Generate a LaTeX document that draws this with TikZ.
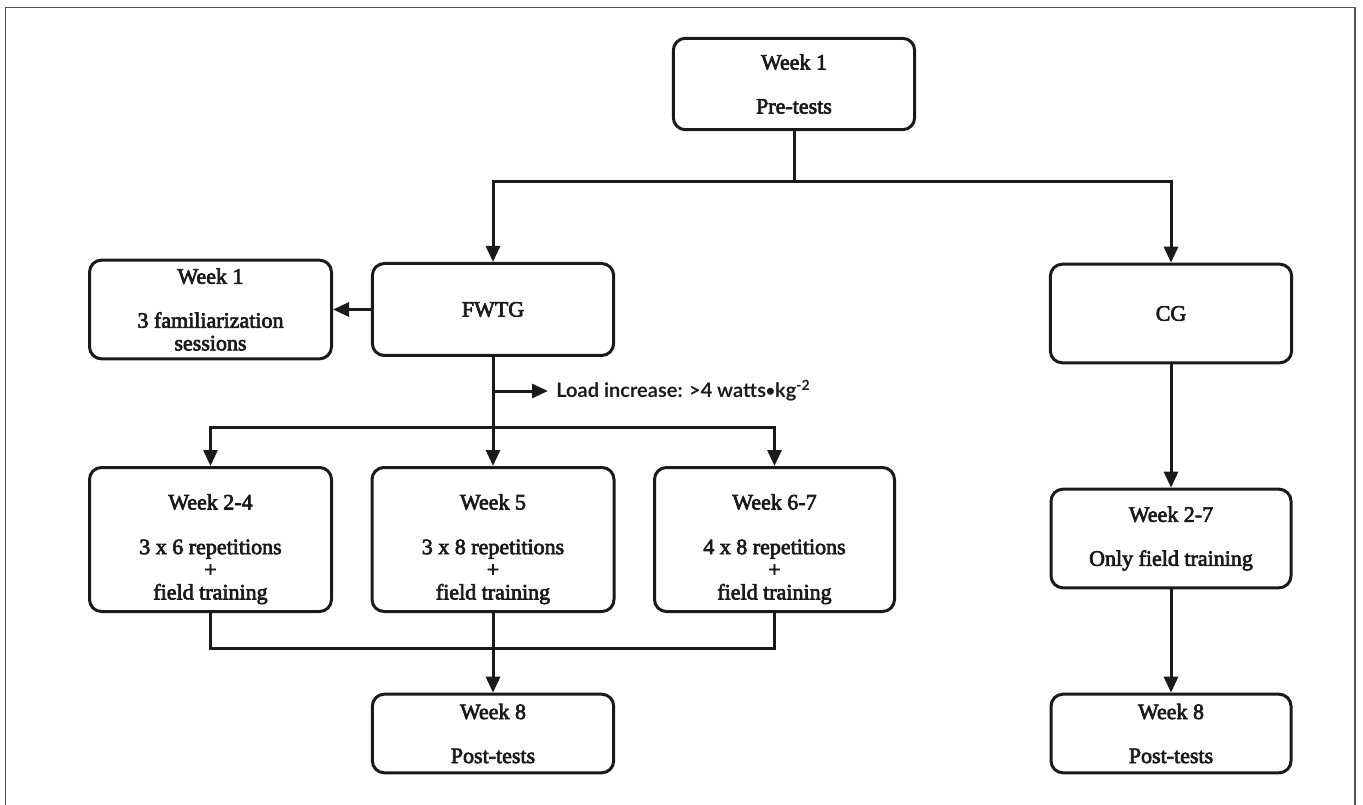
\documentclass[tikz,border=0pt]{standalone}
\usepackage{fontspec}
\usetikzlibrary{arrows.meta}
\newfontfamily\boxfont{Liberation Serif}[FakeBold=3]
\newfontfamily\latofont{Lato}
\definecolor{ink}{HTML}{1A1A1A}
\definecolor{framegray}{HTML}{555555}
\begin{document}
\begin{tikzpicture}[x=0.75pt,y=-0.75pt,
  box/.style={draw=ink, line width=2.25pt, rounded corners=9pt, fill=white, align=center,
    font=\fontsize{16.5pt}{17pt}\boxfont, inner sep=0pt, text=ink},
  conn/.style={line width=2.25pt, draw=ink},
  arr/.style={conn, -{Triangle[length=12pt,width=10.5pt]}}
]
\useasboundingbox (0,0) rectangle (1363,805);
\draw[framegray, line width=1.1pt] (5.5,805) -- (5.5,7.5) -- (1355,7.5) -- (1355,805);

% boxes
\node[box, minimum width=181pt, minimum height=68.5pt] (pre) at (794,84) {Week 1\\[16pt]Pre-tests};
\node[box, minimum width=181.5pt, minimum height=74pt] (fam) at (210.5,309.5) {Week 1\\[16pt]3 familiarization\\sessions};
\node[box, minimum width=181pt, minimum height=69pt] (fwtg) at (493,309.5) {FWTG};
\node[box, minimum width=181pt, minimum height=74pt] (cg) at (1171,313.5) {CG};
\node[box, minimum width=181.5pt, minimum height=108pt] (w24) at (210.5,539.5) {\rule{0pt}{26pt}Week 2-4\\[16.5pt]3 x 6 repetitions\\+\\field training};
\node[box, minimum width=181.5pt, minimum height=108pt] (w5) at (493,539.5) {\rule{0pt}{26pt}Week 5\\[16.5pt]3 x 8 repetitions\\+\\field training};
\node[box, minimum width=180pt, minimum height=108pt] (w67) at (774.5,539.5) {\rule{0pt}{26pt}Week 6-7\\[16.5pt]4 x 8 repetitions\\+\\field training};
\node[box, minimum width=180pt, minimum height=74pt] (w27) at (1171,538.5) {Week 2-7\\[16pt]Only field training};
\node[box, minimum width=181pt, minimum height=59pt] (w8a) at (493,733.5) {Week 8\\[16pt]Post-tests};
\node[box, minimum width=180pt, minimum height=59pt] (w8b) at (1171,733.5) {Week 8\\[16pt]Post-tests};

% label
\node[anchor=west, inner sep=0pt, text=ink, font=\fontsize{15pt}{18pt}\latofont\bfseries] (load) at (556,391) {Load increase: >4 watts\raisebox{1pt}{\fontsize{12pt}{12pt}\selectfont •}kg\textsuperscript{-2}};

% connectors
\coordinate (hub1) at (794,182);
\draw[conn] (pre.south) -- (hub1);
\draw[arr] (hub1) -| (fwtg.north);
\draw[arr] (hub1) -| (cg.north);
\draw[arr] (fwtg.west) -- (fam.east);
\draw[arr] (fwtg.south) -- (w5.north);
\coordinate (hub2) at (493,427);
\draw[arr] (hub2) -| (w24.north);
\draw[arr] (hub2) -| (w67.north);
\coordinate (ld) at (493,391);
\draw[arr] (ld) -- ([xshift=-6pt]load.west);
\coordinate (hub3) at (493,648);
\draw[conn] (w24.south) |- (hub3) -| (w67.south);
\draw[arr] (w5.south) -- (w8a.north);
\draw[arr] (cg.south) -- (w27.north);
\draw[arr] (w27.south) -- (w8b.north);
\end{tikzpicture}
\end{document}
